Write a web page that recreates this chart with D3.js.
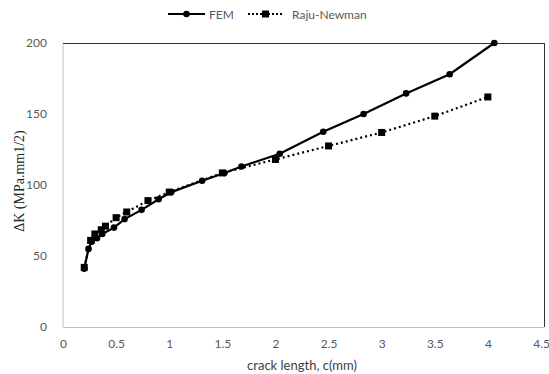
<!DOCTYPE html>
<html>
<head>
<meta charset="utf-8">
<script src="https://cdn.jsdelivr.net/npm/d3@7"></script>
<style>
  html, body { margin: 0; padding: 0; background: #fff; }
  svg { display: block; }
</style>
</head>
<body>
<svg id="chart" width="549" height="374"></svg>
<script>
// Stress intensity factor range vs crack length
const femC = [0.20, 0.24, 0.27, 0.32, 0.37, 0.48, 0.58, 0.74, 0.90, 1.02, 1.31, 1.52, 1.68, 2.04, 2.45, 2.83, 3.23, 3.64, 4.06];
const femK = [41, 55, 60, 62.5, 65.5, 70, 76, 82.5, 90, 95, 103, 108.5, 113, 122, 137.5, 150, 164.5, 178, 200];
const rnC = [0.20, 0.26, 0.30, 0.36, 0.40, 0.50, 0.60, 0.80, 1.00, 1.50, 2.00, 2.50, 3.00, 3.50, 4.00];
const rnK = [42, 61, 65.5, 68.5, 71, 77, 81, 89, 95, 108.5, 118, 127.5, 137, 148.5, 162];
const xTicks = [0, 0.5, 1, 1.5, 2, 2.5, 3, 3.5, 4, 4.5];
const yTicks = [0, 50, 100, 150, 200];
const seriesNames = ["FEM", "Raju-Newman"];

const svg = d3.select("#chart");
const m = { left: 63, right: 544, top: 43, bottom: 327 };

const x = d3.scaleLinear().domain([0, 4.5]).range([m.left, 541]);
const y = d3.scaleLinear().domain([0, 200]).range([m.bottom, m.top]);

const tickFont = "Lato, 'Open Sans', sans-serif";

// plot frame: light left/bottom, dark top/right
svg.append("line").attr("x1", m.left).attr("x2", m.left).attr("y1", m.top).attr("y2", m.bottom)
  .attr("stroke", "#bfbfbf").attr("stroke-width", 1);
svg.append("line").attr("x1", m.left).attr("x2", m.right).attr("y1", m.bottom + 0.5).attr("y2", m.bottom + 0.5)
  .attr("stroke", "#bfbfbf").attr("stroke-width", 1);
svg.append("line").attr("x1", m.left).attr("x2", m.right).attr("y1", m.top + 0.5).attr("y2", m.top + 0.5)
  .attr("stroke", "#333").attr("stroke-width", 1);
svg.append("line").attr("x1", m.right + 0.5).attr("x2", m.right + 0.5).attr("y1", m.top).attr("y2", m.bottom)
  .attr("stroke", "#333").attr("stroke-width", 1);

// axes
const xAxis = d3.axisBottom(x).tickValues(xTicks).tickSize(0).tickPadding(12).tickFormat(d3.format("~g"));
const gx = svg.append("g").attr("transform", `translate(0,${m.bottom})`).call(xAxis);
gx.select(".domain").remove();
gx.selectAll("text").attr("fill", "#595959").attr("font-size", 12).attr("font-family", tickFont);

const yAxis = d3.axisLeft(y).tickValues(yTicks).tickSize(0).tickPadding(16);
const gy = svg.append("g").attr("transform", `translate(${m.left},0)`).call(yAxis);
gy.select(".domain").remove();
gy.selectAll("text").attr("fill", "#595959").attr("font-size", 12).attr("font-family", tickFont);

// axis titles
svg.append("text").attr("x", 302).attr("y", 370).attr("text-anchor", "middle")
  .attr("font-size", 13).attr("font-family", tickFont).attr("fill", "#404040")
  .text("crack length, c(mm)");
svg.append("text").attr("transform", "translate(24,181) rotate(-90)").attr("text-anchor", "middle")
  .attr("font-size", 14).attr("font-family", "'Liberation Serif', serif").attr("fill", "#262626")
  .text("ΔK (MPa.mm1/2)");

const line = d3.line().x(d => x(d[0])).y(d => y(d[1]));
const femData = femC.map((c, i) => [c, femK[i]]);
const rnData = rnC.map((c, i) => [c, rnK[i]]);

// Raju-Newman dotted series with square markers
svg.append("path").datum(rnData).attr("d", line).attr("fill", "none")
  .attr("stroke", "#000").attr("stroke-width", 2.2).attr("stroke-dasharray", "2,3");
svg.selectAll(".rn").data(rnData).enter().append("rect")
  .attr("x", d => x(d[0]) - 3.5).attr("y", d => y(d[1]) - 3.5)
  .attr("width", 7).attr("height", 7).attr("fill", "#000");

// FEM solid series with circle markers
svg.append("path").datum(femData).attr("d", line).attr("fill", "none")
  .attr("stroke", "#000").attr("stroke-width", 2.2);
svg.selectAll(".fem").data(femData).enter().append("circle")
  .attr("cx", d => x(d[0])).attr("cy", d => y(d[1])).attr("r", 3.3).attr("fill", "#000");

// legend
const lg = svg.append("g").attr("transform", "translate(0,14)");
lg.append("line").attr("x1", 168).attr("x2", 205).attr("y1", 0).attr("y2", 0)
  .attr("stroke", "#000").attr("stroke-width", 2.2);
lg.append("circle").attr("cx", 186.5).attr("cy", 0).attr("r", 3.3).attr("fill", "#000");
lg.append("text").attr("x", 209).attr("y", 4.5).attr("font-size", 12).attr("font-family", tickFont)
  .attr("fill", "#595959").text(seriesNames[0]);
lg.append("line").attr("x1", 248).attr("x2", 283).attr("y1", 0).attr("y2", 0)
  .attr("stroke", "#000").attr("stroke-width", 2.2).attr("stroke-dasharray", "2,2");
lg.append("rect").attr("x", 262).attr("y", -3.5).attr("width", 7).attr("height", 7).attr("fill", "#000");
lg.append("text").attr("x", 292).attr("y", 4.5).attr("font-size", 12).attr("font-family", tickFont)
  .attr("fill", "#595959").text(seriesNames[1]);
</script>
</body>
</html>
